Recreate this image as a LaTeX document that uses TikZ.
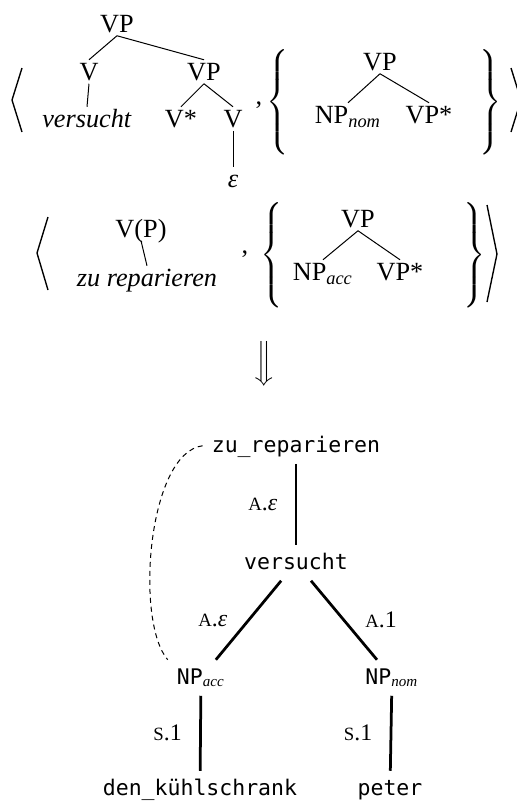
\documentclass[tikz,border=0pt]{standalone}
\usepackage{fontspec}
\setmainfont{Liberation Serif}
\setmonofont{DejaVu Sans Mono}
\newcommand\lblA{{\fontsize{7.5}{8}\selectfont A}}
\newcommand\lblS{{\fontsize{7.5}{8}\selectfont S}}
\newcommand\bigdelim[2]{$\delimiterfactor=1000\delimitershortfall=0pt\left#1\vcenter{\hbox{\vrule height #2 depth #2 width 0pt}}\right.$}
\begin{document}
\begin{tikzpicture}[x=0.4pt,y=-0.4pt,
  tn/.style={font=\fontsize{10.5}{12}\selectfont, inner xsep=1pt, inner ysep=1.3pt, text height=6.6pt, text depth=0pt, anchor=base},
  delim/.style={inner sep=0pt},
  mn/.style={font=\fontsize{8.6}{10}\ttfamily, inner xsep=3.5pt, inner ysep=2.5pt, text height=7pt, text depth=2pt, anchor=base},
  el/.style={font=\fontsize{9.5}{10}\selectfont, inner sep=0pt},
  tedge/.style={line width=0.4pt},
  gedge/.style={line width=1.1pt},
  angbr/.style={line width=0.55pt, line join=miter},
  dep/.style={line width=0.4pt, dash pattern=on 2pt off 1.6pt}
]
\useasboundingbox (0,0) rectangle (516,802);

% ---------- row 1 ----------
\draw[angbr] (22,68) -- (12,100) -- (22,132);
\node[tn] (vp1) at (117,32) {VP};
\node[tn] (v1) at (89,80) {V};
\node[tn] (vers) at (87,127) {\textit{versucht}};
\node[tn] (vp2) at (204,80) {VP};
\node[tn] (vs) at (181,127) {V*};
\node[tn] (v2) at (233,127) {V};
\node[tn] (eps) at (233,187) {\textit{ε}};
\draw[tedge] (vp1.south) -- (v1.north);
\draw[tedge] (vp1.south) -- (vp2.north);
\draw[tedge] (v1.south) -- (vers.north);
\draw[tedge] (vp2.south) -- (vs.north);
\draw[tedge] (vp2.south) -- (v2.north);
\draw[tedge] (v2.south) -- (eps.north);
\node[tn] (c1) at (259,104) {,};
\node[delim] (lb1) at (279,102) {\bigdelim{\{}{20.2pt}};
\node[tn] (vp3) at (380,70) {VP};
\node[tn] (npn) at (348,123) {NP\textsubscript{\textit{nom}}};
\node[tn] (vps1) at (429,123) {VP*};
\draw[tedge] (vp3.south) -- (npn.north);
\draw[tedge] (vp3.south) -- (vps1.north);
\node[delim] (rb1) at (492,102) {\bigdelim{\}}{20.2pt}};
\draw[angbr] (511,68) -- (521,100) -- (511,132);

% ---------- row 2 ----------
\draw[angbr] (48,217) -- (37,253) -- (48,290);
\node[tn] (vpp) at (141,237) {V(P)};
\node[tn] (zur) at (147,286) {\textit{zu reparieren}};
\draw[tedge] (vpp.south) -- (zur.north);
\node[tn] (c2) at (245,253) {,};
\node[delim] (lb2) at (273,255) {\bigdelim{\{}{20.8pt}};
\node[tn] (vp4) at (358,227) {VP};
\node[tn] (npa) at (323,280) {NP\textsubscript{\textit{acc}}};
\node[tn] (vps2) at (400,280) {VP*};
\draw[tedge] (vp4.south) -- (npa.north);
\draw[tedge] (vp4.south) -- (vps2.north);
\node[delim] (rb2) at (476,255) {\bigdelim{\}}{20.8pt}};
\draw[angbr] (487,205) -- (497,254) -- (487,302);

% ---------- arrow ----------
\node[delim] (arr) at (266,364) {\bigdelim{\Downarrow}{7pt}};

% ---------- derivation graph ----------
\node[mn] (gzr) at (296,452) {zu\_reparieren};
\node[mn] (gvs) at (296,569) {versucht};
\node[mn] (gna) at (201,684) {NP\textsubscript{\rmfamily\itshape acc}};
\node[mn] (gnn) at (392,684) {NP\textsubscript{\rmfamily\itshape nom}};
\node[mn] (gdk) at (200,795) {den\_kühlschrank};
\node[mn] (gpe) at (390,795) {peter};
\draw[gedge] (gzr) -- node[el, left=7pt] {\lblA.\textit{ε}} (gvs);
\draw[gedge] (gvs) -- node[el, left=8pt] {\lblA.\textit{ε}} (gna);
\draw[gedge] (gvs) -- node[el, right=8pt] {\lblA.1} (gnn);
\draw[gedge] (gna) -- node[el, left=7pt] {\lblS.1} (gdk);
\draw[gedge] (gnn) -- node[el, left=7pt] {\lblS.1} (gpe);
\draw[dep] (gzr.west) .. controls +(-55,7) and +(-33,-38) .. (gna.north west);
\end{tikzpicture}
\end{document}
